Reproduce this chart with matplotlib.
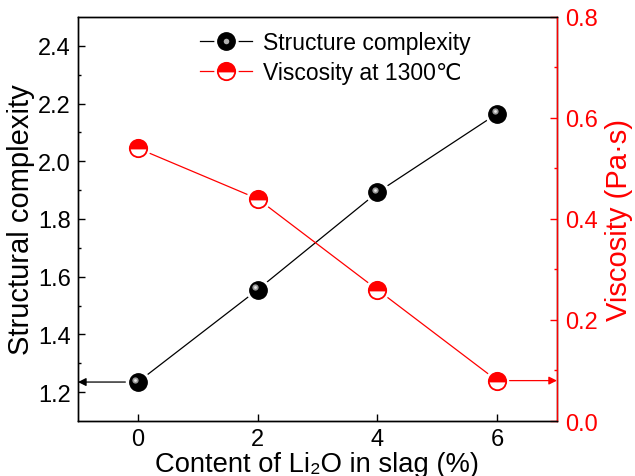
import matplotlib
matplotlib.use("Agg")
import matplotlib.pyplot as plt
from matplotlib.lines import Line2D
from matplotlib.transforms import ScaledTranslation
from matplotlib.legend_handler import HandlerTuple

plt.rcParams['font.family'] = ['Liberation Sans', 'DejaVu Sans']

# Data
li2o = [0, 2, 4, 6]
complexity = [1.235, 1.555, 1.892, 2.165]
viscosity = [0.54, 0.44, 0.26, 0.08]
left_ticks = [1.2, 1.4, 1.6, 1.8, 2.0, 2.2, 2.4]
right_ticks = [0.0, 0.2, 0.4, 0.6, 0.8]
x_ticks = [0, 2, 4, 6]

fig = plt.figure(figsize=(6.35, 4.77), dpi=100)
ax = fig.add_axes([0.1228, 0.1153, 0.7543, 0.847])
ax2 = ax.twinx()

red = '#ff0000'
ms = 12.5

# Black series
ax.plot(li2o, complexity, color='black', lw=0.9, zorder=2)
ax.plot(li2o, complexity, ls='none', marker='o', ms=ms + 4, mfc='white', mec='white', zorder=3)
ax.plot(li2o, complexity, ls='none', marker='o', ms=ms, mfc='black', mec='black', zorder=4)
hl = ScaledTranslation(-2.5 / 100, 2.5 / 100, fig.dpi_scale_trans)
ax.plot(li2o, complexity, ls='none', marker='o', ms=4.5, mfc='#9a9a9a', mec='none',
        transform=ax.transData + hl, zorder=5)
ax.plot(li2o, complexity, ls='none', marker='o', ms=2, mfc='#e8e8e8', mec='none',
        transform=ax.transData + hl, zorder=6)

# Red series
ax2.plot(li2o, viscosity, color=red, lw=0.9, zorder=2)
ax2.plot(li2o, viscosity, ls='none', marker='o', ms=ms + 4, mfc='white', mec='white', zorder=3)
ax2.plot(li2o, viscosity, ls='none', marker='o', ms=ms, fillstyle='top', mfc=red,
         markerfacecoloralt='white', mec=red, mew=1.3, zorder=4)

# Arrows to axes
ax.annotate('', xy=(-1, complexity[0]), xytext=(li2o[0], complexity[0]),
            arrowprops=dict(arrowstyle='-|>', color='black', lw=0.9, shrinkA=9, shrinkB=0,
                            mutation_scale=12))
ax2.annotate('', xy=(7, viscosity[-1]), xytext=(li2o[-1], viscosity[-1]),
             arrowprops=dict(arrowstyle='-|>', color=red, lw=0.9, shrinkA=9, shrinkB=0,
                             mutation_scale=12))

ax.set_xlim(-1, 7)
ax.set_ylim(1.1, 2.5)
ax2.set_ylim(0, 0.8)

ax.set_xticks(x_ticks)
ax.set_yticks(left_ticks)
ax.set_yticks([1.3, 1.5, 1.7, 1.9, 2.1, 2.3], minor=True)
ax.set_yticklabels([f'{v:.1f}' for v in left_ticks])
ax2.set_yticks(right_ticks)
ax2.set_yticks([0.1, 0.3, 0.5, 0.7], minor=True)
ax2.set_yticklabels([f'{v:.1f}' for v in right_ticks])

fs = 17
ax.tick_params(axis='both', which='major', direction='in', length=5, width=1, labelsize=fs, pad=5)
ax.tick_params(axis='y', which='minor', direction='in', length=2.5, width=1)
ax.tick_params(axis='x', which='minor', bottom=False)
ax2.tick_params(axis='y', which='major', direction='in', length=5, width=1, labelsize=fs,
                colors=red, pad=6)
ax2.tick_params(axis='y', which='minor', direction='in', length=2.5, width=1, colors=red)

for s in ax.spines.values():
    s.set_linewidth(1)
for s in ax2.spines.values():
    s.set_linewidth(1)
ax2.spines['right'].set_color(red)

ax.set_xlabel('Content of Li\u2082O in slag (%)', fontsize=19.7, labelpad=0.5)
ax.set_ylabel('Structural complexity', fontsize=21, labelpad=2)
ax2.set_ylabel('Viscosity (Pa·s)', fontsize=21, color=red, labelpad=5)

# Legend
h1 = (Line2D([], [], color='black', lw=0.9),
      Line2D([], [], ls='none', marker='o', ms=ms + 4, mfc='white', mec='white'),
      Line2D([], [], ls='none', marker='o', ms=ms, mfc='black', mec='black'),
      Line2D([], [], ls='none', marker='o', ms=4, mfc='#b0b0b0', mec='none'))
h2 = (Line2D([], [], color=red, lw=0.9),
      Line2D([], [], ls='none', marker='o', ms=ms + 4, mfc='white', mec='white'),
      Line2D([], [], ls='none', marker='o', ms=ms, fillstyle='top', mfc=red,
             markerfacecoloralt='white', mec=red, mew=1.3))
fig.legend([h1, h2], ['Structure complexity', 'Viscosity at 1300\u2103'],
           handler_map={tuple: HandlerTuple(ndivide=1, pad=0)},
           loc='upper left', bbox_to_anchor=(200 / 635, 1 - 32 / 477), frameon=False,
           fontsize=16.5, handlelength=2.27, handletextpad=0.48, labelspacing=0.31,
           borderpad=0, borderaxespad=0)

fig.savefig('out.png', dpi=100)
